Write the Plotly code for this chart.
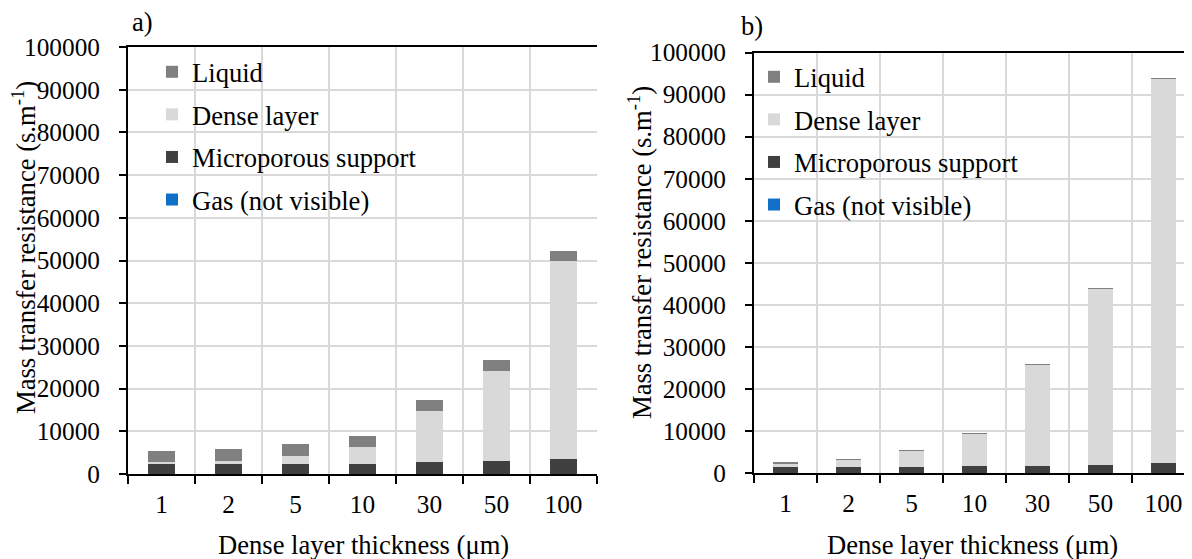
import plotly.graph_objects as go

categories = ["1", "2", "5", "10", "30", "50", "100"]
series_names = ["Gas (not visible)", "Microporous support", "Dense layer", "Liquid"]
series_colors = ["#1070c8", "#404040", "#d9d9d9", "#808080"]
legend_ranks = [4, 3, 2, 1]

# panel a)
gas_a = [5, 5, 5, 5, 5, 5, 5]
support_a = [2400, 2400, 2400, 2450, 2700, 2950, 3550]
dense_a = [300, 700, 1870, 3850, 12150, 21100, 46250]
liquid_a = [2580, 2640, 2650, 2650, 2580, 2560, 2520]

# panel b)
gas_b = [5, 5, 5, 5, 5, 5, 5]
support_b = [1500, 1500, 1500, 1650, 1750, 2000, 2450]
dense_b = [950, 1750, 3900, 7900, 24200, 42000, 91450]
liquid_b = [60, 60, 60, 60, 60, 60, 60]

y_ticks = [0, 10000, 20000, 30000, 40000, 50000, 60000, 70000, 80000, 90000, 100000]
y_tick_labels = [str(v) for v in y_ticks]

FONT = "Liberation Serif, Times New Roman, serif"
FS_TICK = 25.3
FS_TEXT = 26.6
W, H = 1192, 559
OFF = 8  # page body margin


def px(x):
    return (x - OFF) / W


def py(y):
    return 1 - (y - OFF) / H


fig = go.Figure()
for vals, name, col, rk in zip([gas_a, support_a, dense_a, liquid_a], series_names, series_colors, legend_ranks):
    fig.add_trace(go.Bar(x=categories, y=vals, name=name, marker=dict(color=col, line=dict(width=0)),
                         xaxis="x", yaxis="y", legend="legend", legendgroup="a" + name, legendrank=rk))
for vals, name, col, rk in zip([gas_b, support_b, dense_b, liquid_b], series_names, series_colors, legend_ranks):
    fig.add_trace(go.Bar(x=categories, y=vals, name=name, marker=dict(color=col, line=dict(width=0)),
                         xaxis="x2", yaxis="y2", legend="legend2", legendgroup="b" + name, legendrank=rk))

axis_common_x = dict(type="category", tickson="boundaries", showline=True, linecolor="black", linewidth=2,
                     mirror=True, ticks="outside", ticklen=8, tickwidth=2, tickcolor="black",
                     showgrid=True, gridcolor="#d9d9d9", gridwidth=2, automargin=False,
                     tickfont=dict(family=FONT, size=FS_TICK, color="black"), ticklabelstandoff=7)
axis_common_y = dict(range=[0, 100000], tickvals=y_ticks, ticktext=y_tick_labels,
                     showline=True, linecolor="black", linewidth=2, automargin=False,
                     ticks="outside", ticklen=7, tickwidth=2, tickcolor="black",
                     showgrid=True, gridcolor="#d9d9d9", gridwidth=2, zeroline=False,
                     tickfont=dict(family=FONT, size=FS_TICK, color="black"), ticklabelstandoff=14)

legend_common = dict(font=dict(family=FONT, size=FS_TEXT, color="black"), bgcolor="rgba(0,0,0,0)",
                     traceorder="grouped", tracegroupgap=5, xanchor="left", yanchor="top",
                     itemwidth=30)


def ann(text, x, y, angle=0):
    return dict(text=text, x=px(x), y=py(y), xref="paper", yref="paper", showarrow=False,
                xanchor="center", yanchor="middle", textangle=angle,
                font=dict(family=FONT, size=FS_TEXT, color="black"))


fig.update_layout(
    width=W, height=H,
    margin=dict(l=0, r=0, t=0, b=0, autoexpand=False),
    paper_bgcolor="white", plot_bgcolor="white",
    barmode="stack", bargap=0.6,
    font=dict(family=FONT, size=FS_TEXT, color="black"),
    xaxis=dict(domain=[px(128), px(597)], anchor="y", **axis_common_x),
    yaxis=dict(domain=[py(474), py(47)], anchor="x", **axis_common_y),
    xaxis2=dict(domain=[px(754), px(1192 + 3)], anchor="y2", **axis_common_x),
    yaxis2=dict(domain=[py(473), py(52.5)], anchor="x2", **axis_common_y),
    legend=dict(x=px(152), y=py(48), **legend_common),
    legend2=dict(x=px(754), y=py(53), **legend_common),
    annotations=[
        ann("a)", 142, 22),
        ann("b)", 752, 26),
        ann("Mass transfer resistance (s.m<sup>-1</sup>)", 24, 248, -90),
        ann("Mass transfer resistance (s.m<sup>-1</sup>)", 640, 253, -90),
        ann("Dense layer thickness (μm)", 363, 545),
        ann("Dense layer thickness (μm)", 972, 545),
    ],
)

fig.write_html("out.html")
